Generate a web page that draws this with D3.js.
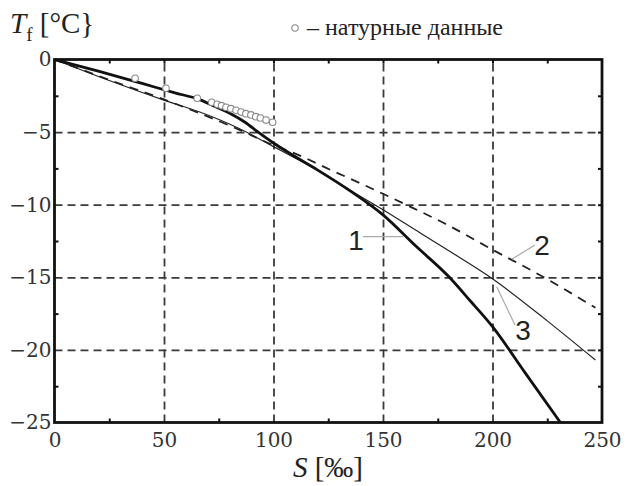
<!DOCTYPE html>
<html lang="ru">
  <head>
    <meta charset="UTF-8" />
    <title>Tf(S)</title>
    <style>
      body { margin: 0; background: #fff; }
      svg { display: block; }
      .grid line { stroke: #3a3a3a; stroke-width: 1.8; stroke-dasharray: 8 5; }
      .minor line { stroke: #111; stroke-width: 2; }
    </style>
  </head>
  <body>
    <script src="https://cdn.jsdelivr.net/npm/d3@7/dist/d3.min.js"></script>
    <svg width="628" height="486"></svg>
    <script>
      // curve 1 (thick)
      const s1 = [0, 20, 40, 55, 66, 72, 80, 87, 93, 100, 110, 120, 135, 150, 165, 180, 190, 200, 215, 231];
      const t1 = [0, -0.8, -1.65, -2.3, -2.75, -3.15, -3.7, -4.32, -5.0, -5.75, -6.7, -7.6, -9.05, -10.7, -12.85, -14.95, -16.65, -18.4, -21.6, -25];
      // curve 2 (dashed)
      const s2 = [0, 25, 50, 83, 100, 111, 126, 140, 164, 178, 200, 223, 247];
      const t2 = [0, -1.4, -2.75, -4.75, -5.9, -6.55, -7.6, -8.55, -10.25, -11.28, -13.1, -14.96, -17.1];
      // curve 3 (thin)
      const s3 = [0, 25, 50, 66, 85, 100, 110, 120, 135, 150, 167, 183, 199, 225, 247];
      const t3 = [0, -1.45, -2.8, -3.6, -4.8, -6.0, -6.8, -7.6, -9.0, -10.35, -11.95, -13.45, -15.0, -18.0, -20.7];
      // натурные данные
      const sObs = [36.8, 50.9, 65.2, 71.8, 74.3, 76.3, 78.3, 80.5, 82.9, 85.2, 87.4, 89.7, 91.9, 94.0, 96.6, 99.6];
      const tObs = [-1.29, -1.98, -2.67, -2.95, -3.09, -3.18, -3.29, -3.39, -3.5, -3.62, -3.73, -3.82, -3.94, -4.03, -4.17, -4.32];

      const xTicks = [0, 50, 100, 150, 200, 250];
      const yTicks = [0, -5, -10, -15, -20, -25];
      const xMinor = [25, 75, 125, 175, 225];
      const yMinor = [-2.5, -7.5, -12.5, -17.5, -22.5];

      const pL = 54.5, pR = 602, pT = 59.5, pB = 422.5;
      const w = pR - pL, h = pB - pT;

      const x = d3.scaleLinear().domain([0, 250]).range([pL, pR]);
      const y = d3.scaleLinear().domain([0, -25]).range([pT, pB]);

      const svg = d3.select('svg');

      // grid
      svg.append('g')
        .attr('class', 'grid')
        .attr('transform', 'translate(0,' + pB + ')')
        .call(d3.axisBottom(x).tickValues(xTicks.slice(1, -1)).tickSize(-h).tickFormat(''))
        .call((g) => g.select('.domain').remove());
      svg.append('g')
        .attr('class', 'grid')
        .attr('transform', 'translate(' + pL + ',0)')
        .call(d3.axisLeft(y).tickValues(yTicks.slice(1, -1)).tickSize(-w).tickFormat(''))
        .call((g) => g.select('.domain').remove());

      // inward minor ticks on all four sides
      const minorSets = [
        [d3.axisBottom(x).tickValues(xMinor).tickSize(-4), 'translate(0,' + pB + ')'],
        [d3.axisTop(x).tickValues(xMinor.concat(xTicks.slice(1, -1))).tickSize(-4), 'translate(0,' + pT + ')'],
        [d3.axisLeft(y).tickValues(yMinor).tickSize(-4), 'translate(' + pL + ',0)'],
        [d3.axisRight(y).tickValues(yMinor.concat(yTicks.slice(1, -1))).tickSize(-4), 'translate(' + pR + ',0)'],
      ];
      minorSets.forEach(([ax, tr]) => {
        svg.append('g')
          .attr('class', 'minor')
          .attr('transform', tr)
          .call(ax.tickFormat(''))
          .call((g) => g.select('.domain').remove());
      });

      // tick labels
      const xAx = svg.append('g')
        .attr('transform', 'translate(0,' + pB + ')')
        .call(d3.axisBottom(x).tickValues(xTicks).tickSize(0).tickPadding(10));
      xAx.select('.domain').remove();
      xAx.attr('font-family', 'DejaVu Serif, serif').attr('font-size', 20);
      xAx.selectAll('text').attr('fill', '#333');

      const yAx = svg.append('g')
        .attr('transform', 'translate(' + pL + ',0)')
        .call(d3.axisLeft(y).tickValues(yTicks).tickSize(0).tickPadding(3));
      yAx.select('.domain').remove();
      yAx.attr('font-family', 'DejaVu Serif, serif').attr('font-size', 20);
      yAx.selectAll('text').attr('fill', '#333');

      const line = d3.line()
        .x((d) => x(d[0]))
        .y((d) => y(d[1]))
        .curve(d3.curveMonotoneX);

      svg.append('path')
        .datum(d3.zip(s3, t3))
        .attr('d', line)
        .attr('fill', 'none')
        .attr('stroke', '#222')
        .attr('stroke-width', 1.2);

      svg.append('path')
        .datum(d3.zip(s2, t2))
        .attr('d', line)
        .attr('fill', 'none')
        .attr('stroke', '#222')
        .attr('stroke-width', 1.8)
        .attr('stroke-dasharray', '9 7');

      svg.append('path')
        .datum(d3.zip(s1, t1))
        .attr('d', line)
        .attr('fill', 'none')
        .attr('stroke', '#111')
        .attr('stroke-width', 2.8);

      // observations
      svg.append('g')
        .selectAll('circle')
        .data(d3.zip(sObs, tObs))
        .enter()
        .append('circle')
        .attr('cx', (d) => x(d[0]))
        .attr('cy', (d) => y(d[1]))
        .attr('r', 3.3)
        .attr('fill', '#fff')
        .attr('stroke', '#8a8a8a')
        .attr('stroke-width', 1.1);

      // frame
      svg.append('rect')
        .attr('x', pL)
        .attr('y', pT)
        .attr('width', w)
        .attr('height', h)
        .attr('fill', 'none')
        .attr('stroke', '#111')
        .attr('stroke-width', 2.8);

      // curve labels with leader lines
      const labels = [
        { text: '1', tx: 356, ty: 250, x1: 363, y1: 236.7, x2: 403, y2: 236.7 },
        { text: '2', tx: 542, ty: 255, x1: 535, y1: 245, x2: 511.7, y2: 259.3 },
        { text: '3', tx: 523, ty: 340, x1: 515, y1: 325, x2: 496.7, y2: 286.7 },
      ];
      labels.forEach((l) => {
        svg.append('line')
          .attr('x1', l.x1).attr('y1', l.y1).attr('x2', l.x2).attr('y2', l.y2)
          .attr('stroke', '#aaa').attr('stroke-width', 1.2);
        svg.append('text')
          .attr('x', l.tx).attr('y', l.ty)
          .attr('text-anchor', 'middle')
          .attr('font-family', 'Liberation Sans, Arial, sans-serif')
          .attr('font-size', 28)
          .attr('fill', '#222')
          .text(l.text);
      });

      // axis titles
      const yt = svg.append('text')
        .attr('x', 10).attr('y', 33)
        .attr('font-family', 'Liberation Serif, serif')
        .attr('font-size', 29)
        .attr('fill', '#222');
      yt.append('tspan').attr('font-style', 'italic').text('T');
      yt.append('tspan').attr('font-size', 19).attr('dy', 8).text('f');
      yt.append('tspan').attr('dy', -8).text(' [°C}');

      const xt = svg.append('text')
        .attr('x', 328).attr('y', 477)
        .attr('text-anchor', 'middle')
        .attr('font-family', 'Liberation Serif, serif')
        .attr('font-size', 29)
        .attr('fill', '#222');
      xt.append('tspan').attr('font-style', 'italic').text('S');
      xt.append('tspan').text(' [‰]');

      // legend
      svg.append('circle')
        .attr('cx', 295).attr('cy', 28).attr('r', 3.2)
        .attr('fill', '#fff').attr('stroke', '#8a8a8a').attr('stroke-width', 1.1);
      svg.append('text')
        .attr('x', 307).attr('y', 35)
        .attr('font-family', 'Liberation Serif, serif')
        .attr('font-size', 24)
        .attr('fill', '#222')
        .text('– натурные данные');
    </script>
  </body>
</html>
